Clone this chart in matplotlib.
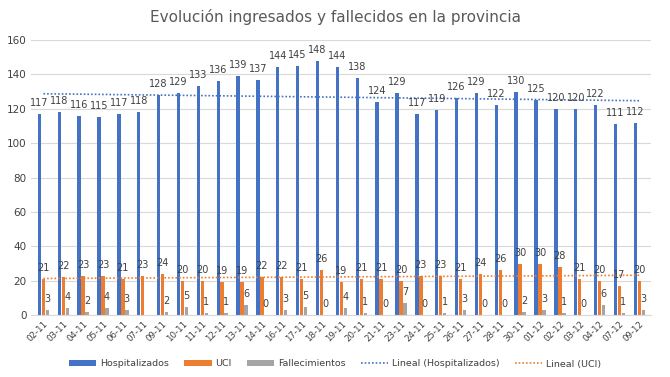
import numpy as np
import matplotlib
matplotlib.use("Agg")
import matplotlib.pyplot as plt

fechas = ["02-11","03-11","04-11","05-11","06-11","07-11","09-11","10-11","11-11","12-11",
          "13-11","14-11","16-11","17-11","18-11","19-11","20-11","21-11","23-11","24-11",
          "25-11","26-11","27-11","28-11","30-11","01-12","02-12","03-12","04-12","07-12","09-12"]
hospitalizados = [117,118,116,115,117,118,128,129,133,136,139,137,144,145,148,144,138,124,129,117,
                  119,126,129,122,130,125,120,120,122,111,112]
uci = [21,22,23,23,21,23,24,20,20,19,19,22,22,21,26,19,21,21,20,23,23,21,24,26,30,30,28,21,20,17,20]
fallecimientos = [3,4,2,4,3,np.nan,2,5,1,1,6,0,3,5,0,4,1,0,7,0,1,3,0,0,2,3,1,0,6,1,3]

c_h, c_u, c_f = "#4472C4", "#ED7D31", "#A5A5A5"
txt = "#404040"

fig = plt.figure(figsize=(6.7, 3.77), dpi=100)
ax = fig.add_axes([0.047, 0.164, 0.925, 0.73])

x = np.arange(len(fechas))
w = 0.2
handles = []
series = [(hospitalizados, c_h, "Hospitalizados", -w), (uci, c_u, "UCI", 0.0), (fallecimientos, c_f, "Fallecimientos", w)]
for vals, col, lab, off in series:
    v = np.array(vals, dtype=float)
    b = ax.bar(x + off, np.nan_to_num(v), width=w * 0.85, color=col, label=lab, zorder=2)
    handles.append(b)
    for xi, vi in zip(x + off, v):
        if not np.isnan(vi):
            ax.text(xi, vi + 3.5, f"{int(vi)}", ha="center", va="bottom", fontsize=7, color=txt, zorder=4)

for vals, col, lab in [(hospitalizados, c_h, "Lineal (Hospitalizados)"), (uci, c_u, "Lineal (UCI)")]:
    p = np.polyfit(x, np.array(vals, dtype=float), 1)
    ln, = ax.plot(x, np.polyval(p, x), linestyle=(0, (1, 1.2)), color=col, linewidth=1.2, label=lab, zorder=3)
    handles.append(ln)

ax.set_xlim(-0.6, len(fechas) - 0.4)
ax.set_ylim(0, 160)
ax.set_yticks(range(0, 161, 20))
ax.set_xticks(x)
ax.set_xticklabels(fechas, rotation=45, ha="right", rotation_mode="anchor", fontsize=6.2, color=txt)
ax.tick_params(axis="y", labelsize=7.5, colors=txt, length=0)
ax.tick_params(axis="x", length=0, pad=3)
ax.grid(axis="y", color="#D9D9D9", linewidth=0.8, zorder=0)
for s in ["top", "right", "left"]:
    ax.spines[s].set_visible(False)
ax.spines["bottom"].set_color("#D9D9D9")

fig.suptitle("Evolución ingresados y fallecidos en la provincia", y=0.975, fontsize=11, color="#595959")

fig.legend(handles=handles, labels=[h.get_label() for h in handles], loc="lower center",
           bbox_to_anchor=(0.5, 0.0), ncol=5, frameon=False, fontsize=6.8,
           handlelength=2.9, handleheight=0.5, columnspacing=1.6, handletextpad=0.4, labelcolor=txt)

fig.savefig("out.png", dpi=100)
